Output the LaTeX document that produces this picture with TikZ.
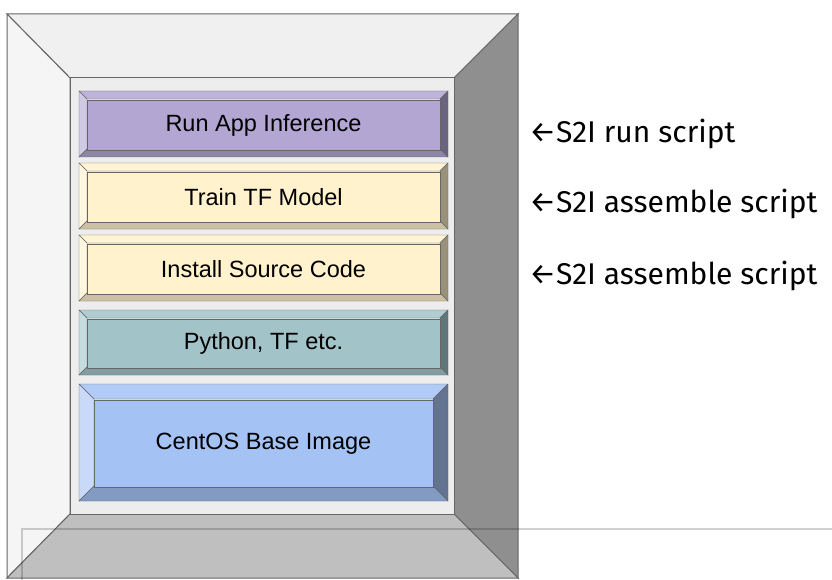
\documentclass[tikz,border=0pt]{standalone}
\usepackage{fontspec}
\setmainfont{Liberation Sans}
\newfontfamily\lblfont{Fira Sans}
\usetikzlibrary{positioning}

\definecolor{edge}{HTML}{666666}
\definecolor{runcol}{HTML}{B3A6D3}
\definecolor{srccol}{HTML}{FFF2CC}
\definecolor{pycol}{HTML}{A2C4C9}
\definecolor{oscol}{HTML}{A4C2F4}

% one bevelled layer: name, top, bottom, bevel, colour, text
\newcommand{\layer}[6]{%
  \filldraw[draw=edge, fill=#5!85!white] (79,#2) -- (448,#2) -- (448-#4,#2+#4) -- (79+#4,#2+#4) -- cycle;
  \filldraw[draw=edge, fill=#5!60!white] (79,#2) -- (79+#4,#2+#4) -- (79+#4,#3-#4) -- (79,#3) -- cycle;
  \filldraw[draw=edge, fill=#5!60!black] (448,#2) -- (448,#3) -- (448-#4,#3-#4) -- (448-#4,#2+#4) -- cycle;
  \filldraw[draw=edge, fill=#5!80!black] (79,#3) -- (79+#4,#3-#4) -- (448-#4,#3-#4) -- (448,#3) -- cycle;
  \node[face, fill=#5, minimum width={369-2*#4}, minimum height={#3-#2-2*#4}] (#1) at (263.5,{(#2+#3)/2+1}) {#6};
}

\begin{document}
\begin{tikzpicture}[x=1pt, y=-1pt,
        face/.style={rectangle, draw=edge, inner sep=0pt, font=\fontsize{23.5}{28}\selectfont},
        lbl/.style={anchor=base west, inner sep=0pt, font=\lblfont\fontsize{30}{36}\selectfont},
        frame/.style={draw=edge, line width=1pt},
    ]
        \useasboundingbox (0,0) rectangle (832,580);

        % outer frame
        \filldraw[frame, fill=black!6] (7,14) -- (518,14) -- (454,78) -- (70,78) -- cycle;
        \filldraw[frame, fill=black!4] (7,14) -- (70,78) -- (70,514) -- (7,578) -- cycle;
        \filldraw[frame, fill=black!44] (518,14) -- (518,578) -- (454,514) -- (454,78) -- cycle;
        \filldraw[frame, fill=black!25] (7,578) -- (70,514) -- (454,514) -- (518,578) -- cycle;
        \node[frame, fill=black!7, inner sep=0pt, minimum width=384, minimum height=436] (inner) at (262,296) {};

        % layers
        \layer{run}{91}{157}{8}{runcol}{Run App Inference}
        \layer{train}{163}{229}{8}{srccol}{Train TF Model}
        \layer{install}{235}{301}{8}{srccol}{Install Source Code}
        \layer{python}{310}{375}{8}{pycol}{Python, TF etc.}
        \layer{centos}{384}{501}{15}{oscol}{CentOS Base Image}

        % S2I labels
        \node[lbl] (lrun) at (529,142.3) {←S2I run script};
        \node[lbl] (ltrain) at (529,212.3) {←S2I assemble script};
        \node[lbl] (linstall) at (529,284.3) {←S2I assemble script};

        % grey guide line
        \draw[black, opacity=0.18, line width=2pt] (22,580) -- (22,529) -- (832,529);
    \end{tikzpicture}
\end{document}
